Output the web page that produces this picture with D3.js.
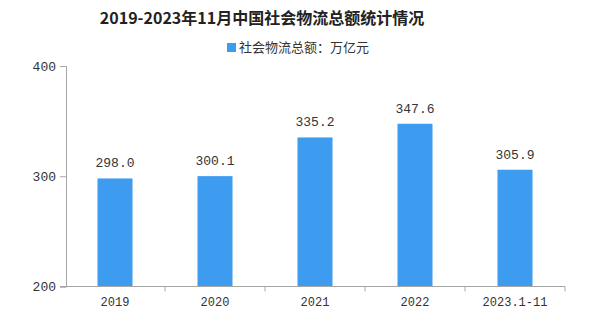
<!DOCTYPE html>
<html>
<head>
<meta charset="utf-8">
<script src="https://cdn.jsdelivr.net/npm/d3@7"></script>
<style>
  body { margin: 0; background: #fff; }
  svg text { font-family: "Noto Sans CJK SC", "DejaVu Sans", sans-serif; }
  svg text.num { font-family: "Liberation Mono", "DejaVu Sans Mono", monospace; }
</style>
</head>
<body>
<svg id="chart" width="601" height="316"></svg>
<script>
const categories = ['2019', '2020', '2021', '2022', '2023.1-11'];
const totals = [298.0, 300.1, 335.2, 347.6, 305.9];
const yTicks = [200, 300, 400];
const title = '2019-2023年11月中国社会物流总额统计情况';
const seriesName = '社会物流总额：万亿元';

const svg = d3.select('#chart');
const barColor = '#3d9bf0';
const axisColor = '#a6a6a6';

const x = d3.scaleBand().domain(categories).range([65, 565]).paddingInner(0.65).paddingOuter(0.325);
const y = d3.scaleLinear().domain([200, 400]).range([286.5, 66]);

// title
svg.append('text')
	.attr('x', 262)
	.attr('y', 24)
	.attr('text-anchor', 'middle')
	.style('font-size', '16px')
	.style('font-weight', 'bold')
	.attr('fill', '#222')
	.text(title);

// legend
svg.append('rect')
	.attr('x', 227)
	.attr('y', 43)
	.attr('width', 9)
	.attr('height', 9)
	.attr('fill', barColor);
svg.append('text')
	.attr('x', 239)
	.attr('y', 52)
	.style('font-size', '13px')
	.attr('fill', '#333')
	.text(seriesName);

// y axis
const yAxis = svg.append('g')
	.attr('transform', 'translate(66,0)')
	.call(d3.axisLeft(y).tickValues(yTicks).tickSize(6).tickPadding(4).tickFormat(d3.format('d')));
yAxis.selectAll('path, line').attr('stroke', axisColor);
yAxis.selectAll('text').attr('class', 'num').style('font-size', '13px').attr('fill', '#333');

// bars
svg.selectAll('.bar')
	.data(categories)
	.enter()
	.append('rect')
	.attr('class', 'bar')
	.attr('x', d => x(d))
	.attr('width', x.bandwidth())
	.attr('y', (d, i) => y(totals[i]))
	.attr('height', (d, i) => y(200) - y(totals[i]))
	.attr('fill', barColor);

// value labels
svg.selectAll('.val')
	.data(categories)
	.enter()
	.append('text')
	.attr('class', 'val num')
	.attr('x', d => x(d) + x.bandwidth() / 2)
	.attr('y', (d, i) => y(totals[i]) - 11)
	.attr('text-anchor', 'middle')
	.style('font-size', '13px')
	.attr('fill', '#333')
	.text((d, i) => totals[i].toFixed(1));

// x axis with ticks at band edges
const xAxis = svg.append('g')
	.attr('transform', 'translate(0,' + y(200) + ')');
xAxis.append('line')
	.attr('x1', 60)
	.attr('x2', 565)
	.attr('stroke', axisColor);
const step = x.step();
xAxis.selectAll('.edge')
	.data(categories)
	.enter()
	.append('line')
	.attr('class', 'edge')
	.attr('x1', d => x(d) - x.paddingOuter() * step + step)
	.attr('x2', d => x(d) - x.paddingOuter() * step + step)
	.attr('y1', 0)
	.attr('y2', 5)
	.attr('stroke', axisColor);
xAxis.selectAll('.cat')
	.data(categories)
	.enter()
	.append('text')
	.attr('class', 'cat num')
	.attr('x', d => x(d) + x.bandwidth() / 2)
	.attr('y', 19)
	.attr('text-anchor', 'middle')
	.style('font-size', '12px')
	.attr('fill', '#333')
	.text(d => d);
</script>
</body>
</html>
